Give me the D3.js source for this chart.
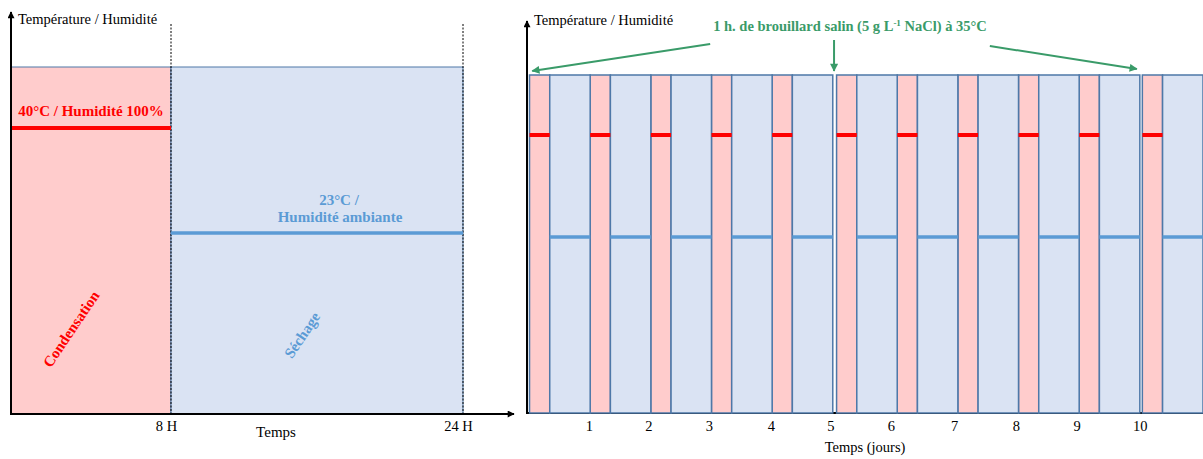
<!DOCTYPE html>
<html>
<head>
<meta charset="utf-8">
<script src="https://cdn.jsdelivr.net/npm/d3@7"></script>
<style>
  html, body { margin: 0; padding: 0; background: #fff; }
  svg { display: block; font-family: "Liberation Serif", "Times New Roman", serif; }
</style>
</head>
<body>
<svg id="chart" width="1203" height="459"></svg>
<script>
// ---------- DATA ----------
// Left panel: one 24 h cycle
const phaseNames = ["Condensation", "Séchage"];
const phaseStartH = [0, 8];
const phaseEndH = [8, 24];
const phaseTemp = [40, 23];
const leftTickHours = [8, 24];
const leftTickLabels = ["8 H", "24 H"];

// Right panel: 11 daily cycles (hours from start), salt fog before days 0, 5, 10
const cycleStartH = [1, 25, 49, 73, 97, 122.5, 146.5, 170.5, 194.5, 218.5, 243.5];
const condensationH = 8;
const dryingH = 16;
const condTemp = [40, 40, 40, 40, 40, 40, 40, 40, 40, 40, 40];
const dryTemp = [23, 23, 23, 23, 23, 23, 23, 23, 23, 23, 23];
const fogStartH = [0, 121, 242];
const fogDurH = 1;
const dayTickHours = [24.5, 48, 72, 96.5, 120, 144, 169, 193.5, 217.5, 242.5];
const dayTickLabels = ["1", "2", "3", "4", "5", "6", "7", "8", "9", "10"];

// ---------- STYLE ----------
const PINK = "#ffcccc", BLUEF = "#dae3f3", EDGE = "#4e78a8";
const RED = "#ff0000", BLUEL = "#5b9bd5", GREEN = "#3a9b69";

const svg = d3.select("#chart");
const defs = svg.append("defs");
function marker(id, color, w, h) {
  defs.append("marker").attr("id", id)
    .attr("viewBox", "0 0 10 10").attr("refX", 9).attr("refY", 5)
    .attr("markerUnits", "userSpaceOnUse")
    .attr("markerWidth", w).attr("markerHeight", h).attr("orient", "auto")
    .append("path").attr("d", "M0,0 L10,5 L0,10 Z").attr("fill", color);
}
marker("arrBlack", "#000", 9, 7);
marker("arrGreen", GREEN, 10, 8);

// ---------- LEFT PANEL ----------
const xL = d3.scaleLinear().domain([0, 8, 24]).range([11, 171, 463]);
const yL = d3.scaleLinear().domain([0, 23, 40, 50]).range([414, 233, 128, 67]);
const left = svg.append("g");
const phases = phaseNames.map((n, i) => ({ n, s: phaseStartH[i], e: phaseEndH[i], t: phaseTemp[i], i }));

left.selectAll("rect.ph").data(phases).join("rect").attr("class", "ph")
  .attr("x", d => xL(d.s)).attr("y", yL(50))
  .attr("width", d => xL(d.e) - xL(d.s)).attr("height", yL(0) - yL(50))
  .attr("fill", d => d.i === 0 ? PINK : BLUEF)
  .attr("stroke", EDGE).attr("stroke-width", 1);

left.selectAll("line.dot").data(leftTickHours).join("line").attr("class", "dot")
  .attr("x1", d => xL(d)).attr("x2", d => xL(d)).attr("y1", 24).attr("y2", yL(0))
  .attr("stroke", "#000").attr("stroke-width", 1).attr("stroke-dasharray", "2,1.5");

left.selectAll("line.lvl").data(phases).join("line").attr("class", "lvl")
  .attr("x1", d => xL(d.s)).attr("x2", d => xL(d.e))
  .attr("y1", d => yL(d.t)).attr("y2", d => yL(d.t))
  .attr("stroke", d => d.i === 0 ? RED : BLUEL)
  .attr("stroke-width", d => d.i === 0 ? 4 : 3.5);

left.append("line").attr("x1", xL(0)).attr("x2", xL(0)).attr("y1", yL(0) + 1).attr("y2", 12)
  .attr("stroke", "#000").attr("stroke-width", 2).attr("marker-end", "url(#arrBlack)");
left.append("line").attr("x1", xL(0) - 1).attr("x2", 514).attr("y1", yL(0)).attr("y2", yL(0))
  .attr("stroke", "#000").attr("stroke-width", 2).attr("marker-end", "url(#arrBlack)");

const axL = left.append("g").attr("transform", `translate(-5,${yL(0)})`)
  .call(d3.axisBottom(xL).tickValues(leftTickHours).tickSize(0).tickPadding(7)
    .tickFormat((d, i) => leftTickLabels[i]));
axL.select(".domain").remove();
axL.selectAll("text").attr("font-family", "Liberation Serif").attr("font-size", 14.5).attr("fill", "#000");

left.append("text").attr("x", 18).attr("y", 24).attr("font-size", 14.5).text("Température / Humidité");
left.append("text").attr("x", 276).attr("y", 437).attr("text-anchor", "middle").attr("font-size", 15).text("Temps");

left.append("text").attr("x", xL(4)).attr("y", yL(40) - 12).attr("text-anchor", "middle")
  .attr("font-size", 15).attr("font-weight", "bold").attr("fill", RED).text("40°C / Humidité 100%");
left.append("text").attr("x", 339).attr("y", yL(23) - 28).attr("text-anchor", "middle")
  .attr("font-size", 15).attr("font-weight", "bold").attr("fill", BLUEL).text("23°C /");
left.append("text").attr("x", 340).attr("y", yL(23) - 11).attr("text-anchor", "middle")
  .attr("font-size", 15).attr("font-weight", "bold").attr("fill", BLUEL).text("Humidité ambiante");

left.append("text").attr("transform", "translate(71,329) rotate(-56)").attr("text-anchor", "middle")
  .attr("dy", "0.35em").attr("font-size", 15).attr("font-weight", "bold").attr("fill", RED).text(phaseNames[0]);
left.append("text").attr("transform", "translate(302,335) rotate(-56)").attr("text-anchor", "middle")
  .attr("dy", "0.35em").attr("font-size", 15).attr("font-weight", "bold").attr("fill", BLUEL).text(phaseNames[1]);

// ---------- RIGHT PANEL ----------
const xR = d3.scaleLinear().domain([0, 267.5]).range([527, 1203]);
const yR = d3.scaleLinear().domain([0, 23, 40, 50]).range([413, 237, 135, 75]);
const right = svg.append("g");

right.append("line").attr("x1", 526).attr("x2", 1203).attr("y1", yR(0)).attr("y2", yR(0))
  .attr("stroke", "#000").attr("stroke-width", 2);

const cycles = cycleStartH.map((s, i) => ({ s, i, ct: condTemp[i], dt: dryTemp[i] }));
right.selectAll("rect.cond").data(cycles).join("rect").attr("class", "cond")
  .attr("x", d => xR(d.s)).attr("y", yR(50))
  .attr("width", xR(condensationH) - xR(0)).attr("height", yR(0) - yR(50))
  .attr("fill", PINK).attr("stroke", EDGE).attr("stroke-width", 1.5);
right.selectAll("rect.dry").data(cycles).join("rect").attr("class", "dry")
  .attr("x", d => xR(d.s + condensationH)).attr("y", yR(50))
  .attr("width", xR(dryingH) - xR(0)).attr("height", yR(0) - yR(50))
  .attr("fill", BLUEF).attr("stroke", EDGE).attr("stroke-width", 1.5);

right.selectAll("line.cl").data(cycles).join("line").attr("class", "cl")
  .attr("x1", d => xR(d.s)).attr("x2", d => xR(d.s + condensationH))
  .attr("y1", d => yR(d.ct)).attr("y2", d => yR(d.ct))
  .attr("stroke", RED).attr("stroke-width", 4);
right.selectAll("line.dl").data(cycles).join("line").attr("class", "dl")
  .attr("x1", d => xR(d.s + condensationH)).attr("x2", d => xR(d.s + condensationH + dryingH))
  .attr("y1", d => yR(d.dt)).attr("y2", d => yR(d.dt))
  .attr("stroke", BLUEL).attr("stroke-width", 3.5);

right.append("line").attr("x1", xR(0)).attr("x2", xR(0)).attr("y1", yR(0) + 1).attr("y2", 21)
  .attr("stroke", "#000").attr("stroke-width", 2).attr("marker-end", "url(#arrBlack)");

const axR = right.append("g").attr("transform", `translate(0,${yR(0)})`)
  .call(d3.axisBottom(xR).tickValues(dayTickHours).tickSize(0).tickPadding(8)
    .tickFormat((d, i) => dayTickLabels[i]));
axR.select(".domain").remove();
axR.selectAll("text").attr("font-family", "Liberation Serif").attr("font-size", 14.5).attr("fill", "#000");

right.append("text").attr("x", 534).attr("y", 25).attr("font-size", 14.5).text("Température / Humidité");
right.append("text").attr("x", 865).attr("y", 452).attr("text-anchor", "middle").attr("font-size", 14.5).text("Temps (jours)");

// salt fog annotation
const title = right.append("text").attr("x", 850).attr("y", 31).attr("text-anchor", "middle")
  .attr("font-size", 14.5).attr("font-weight", "bold").attr("fill", GREEN);
title.append("tspan").text("1 h. de brouillard salin (5 g L");
title.append("tspan").attr("font-size", 9).attr("dy", -5).text("-1");
title.append("tspan").attr("dy", 5).text(" NaCl) à 35°C");

const tb = title.node().getBBox();
const fogTails = [[tb.x - 3, 44], [null, 40], [tb.x + tb.width + 3, 46]];
right.selectAll("line.fog").data(fogStartH).join("line").attr("class", "fog")
  .attr("x1", (d, i) => fogTails[i][0] === null ? xR(d + fogDurH / 2) : fogTails[i][0])
  .attr("y1", (d, i) => fogTails[i][1])
  .attr("x2", (d, i) => xR(d + fogDurH / 2) + (i === 0 ? 4 : (i === 2 ? -3 : 0)))
  .attr("y2", (d, i) => i === 2 ? 69 : 71)
  .attr("stroke", GREEN).attr("stroke-width", 2).attr("marker-end", "url(#arrGreen)");
</script>
</body>
</html>
